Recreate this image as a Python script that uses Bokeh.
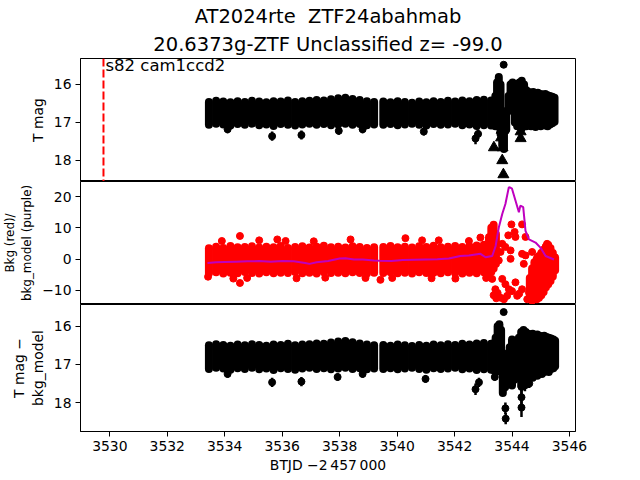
from bokeh.plotting import figure
from bokeh.models import Range1d, FixedTicker, Span, Title
from bokeh.layouts import column
from bokeh.embed import file_html
from bokeh.resources import INLINE
from bokeh.core.properties import value

FONT = "DejaVu Sans"

# ---------------- data ----------------
title_line1 = "AT2024rte\u00a0 ZTF24abahmab"
title_line2 = "20.6373g-ZTF Unclassified z= -99.0"
sector_label = ["s82 cam1ccd2"]
sector_x = [3529.85]
sector_y = [15.25]
sector_line = 3529.78

x_ticks = [3530, 3532, 3534, 3536, 3538, 3540, 3542, 3544, 3546]
mag_ticks = [16, 17, 18]
bkg_ticks = [-10, 0, 10, 20]

# regular part of the light curve: time samples with upper / lower envelope
grid_t = [3533.45, 3533.70, 3533.95, 3534.20, 3534.45, 3534.70, 3534.95, 3535.20,
          3535.45, 3535.70, 3535.95, 3536.20, 3536.45, 3536.70, 3536.95, 3537.20,
          3537.45, 3537.70, 3537.95, 3538.20, 3538.45, 3538.70, 3538.95, 3539.20,
          3539.52, 3539.77, 3540.02, 3540.27, 3540.52, 3540.77, 3541.02, 3541.27,
          3541.52, 3541.77, 3542.02, 3542.27, 3542.52, 3542.77, 3543.02, 3543.27]

tmag_hi = [16.46, 16.43, 16.45, 16.47, 16.44, 16.46, 16.43, 16.45, 16.47, 16.44, 16.45, 16.42,
           16.46, 16.44, 16.43, 16.41, 16.42, 16.39, 16.36, 16.35, 16.38, 16.41, 16.44, 16.46,
           16.45, 16.47, 16.44, 16.46, 16.48, 16.45, 16.47, 16.44, 16.46, 16.43, 16.45, 16.42,
           16.44, 16.41, 16.40, 16.42]
tmag_lo = [17.06, 17.03, 17.05, 17.08, 17.04, 17.06, 17.03, 17.07, 17.05, 17.09, 17.04, 17.06,
           17.08, 17.05, 17.03, 17.06, 17.04, 17.07, 17.05, 17.03, 17.06, 17.04, 17.07, 17.05,
           17.06, 17.04, 17.07, 17.05, 17.03, 17.06, 17.08, 17.04, 17.06, 17.05, 17.03, 17.07,
           17.05, 17.09, 17.07, 17.08]

bkg_hi = [3.5, 4.0, 3.6, 4.2, 3.8, 3.9, 4.1, 3.7, 4.0, 3.8, 4.2, 3.6, 3.9, 4.1, 3.7, 4.0,
          4.3, 3.8, 4.0, 3.7, 4.1, 3.9, 3.6, 3.8, 3.9, 4.2, 3.8, 4.0, 3.7, 4.1, 3.9, 4.3,
          3.8, 4.0, 4.2, 3.9, 4.1, 4.4, 4.6, 4.5]
bkg_lo = [-4.5, -4.2, -4.6, -4.3, -4.5, -4.1, -4.4, -4.6, -4.2, -4.5, -4.3, -4.4, -4.1, -4.5,
          -4.3, -4.6, -4.2, -4.4, -4.3, -4.5, -4.2, -4.4, -4.6, -4.3, -4.4, -4.2, -4.5, -4.3,
          -4.6, -4.2, -4.4, -4.3, -4.5, -4.2, -4.4, -4.6, -4.3, -4.5, -4.2, -4.0]

sub_hi = [16.50, 16.47, 16.49, 16.51, 16.48, 16.50, 16.47, 16.49, 16.51, 16.48, 16.49, 16.46,
          16.50, 16.48, 16.47, 16.45, 16.46, 16.43, 16.40, 16.39, 16.42, 16.45, 16.48, 16.50,
          16.49, 16.51, 16.48, 16.50, 16.52, 16.49, 16.51, 16.48, 16.50, 16.47, 16.49, 16.46,
          16.48, 16.45, 16.44, 16.46]
sub_lo = [17.12, 17.09, 17.11, 17.14, 17.10, 17.12, 17.09, 17.13, 17.11, 17.15, 17.10, 17.12,
          17.14, 17.11, 17.09, 17.12, 17.10, 17.13, 17.11, 17.09, 17.12, 17.10, 17.13, 17.11,
          17.12, 17.10, 17.13, 17.11, 17.09, 17.12, 17.14, 17.10, 17.12, 17.11, 17.09, 17.13,
          17.11, 17.15, 17.13, 17.14]

# flare region, panel 1 (T mag)
flare1_t = [3543.35, 3543.42, 3543.48, 3543.54, 3543.60, 3543.66, 3543.72, 3543.80, 3543.88,
            3543.95, 3544.02, 3544.10, 3544.18, 3544.26, 3544.34, 3544.42, 3544.50, 3544.58,
            3544.66, 3544.74, 3544.82, 3544.90, 3545.00, 3545.08, 3545.16, 3545.24, 3545.32,
            3545.40, 3545.48]
flare1_hi = [16.45, 16.30, 15.95, 15.80, 16.00, 16.80, 17.00, 16.70, 16.30, 16.00, 15.95, 16.00,
             16.10, 15.95, 15.90, 16.00, 16.15, 16.20, 16.22, 16.20, 16.25, 16.22, 16.25, 16.27,
             16.25, 16.28, 16.30, 16.32, 16.35]
flare1_lo = [17.05, 17.10, 16.90, 16.60, 17.30, 17.60, 17.70, 17.20, 16.70, 16.50, 16.60, 17.00,
             17.10, 17.10, 17.15, 17.00, 17.10, 17.05, 17.10, 17.08, 17.12, 17.05, 17.10, 17.06,
             17.08, 17.10, 17.05, 17.02, 16.98]

# isolated points with error bars, panel 1
pt1_t = [3534.10, 3535.65, 3536.67, 3537.97, 3538.80, 3540.93, 3542.73, 3542.82, 3543.71]
pt1_v = [17.18, 17.36, 17.33, 17.22, 17.18, 17.24, 17.42, 17.30, 15.48]
pt1_err = [0.10, 0.12, 0.12, 0.10, 0.10, 0.10, 0.15, 0.12, 0.02]

# upper limits (triangles), panel 1
lim_t = [3543.37, 3543.67, 3543.66, 3543.70, 3544.30, 3544.30, 3543.62, 3543.64]
lim_v = [17.66, 17.66, 18.00, 18.37, 17.24, 17.42, 17.40, 17.20]

# flare region, panel 2 (background, red)
flare2_t = [3543.20, 3543.28, 3543.36, 3543.44, 3544.62, 3544.70, 3544.78, 3544.86, 3544.94,
            3545.02, 3545.10, 3545.18, 3545.26, 3545.34, 3545.42, 3545.50]
flare2_hi = [7.0, 10.0, 11.0, 8.0, -6.0, -3.0, -1.0, 0.0, 1.0, 2.0, 3.0, 4.0, 4.5, 3.5, 2.0, 0.5]
flare2_lo = [-4.5, -4.0, -3.0, -1.5, -12.5, -12.8, -12.5, -12.8, -12.3, -11.5, -10.5, -9.0,
             -8.0, -7.0, -5.5, -3.5]

red_t = [3533.42, 3533.90, 3534.30, 3534.53, 3534.53, 3534.78, 3535.20, 3535.83, 3536.12,
         3536.50, 3537.10, 3537.50, 3538.38, 3538.90, 3539.42, 3539.83, 3540.29, 3540.87,
         3541.20, 3541.45, 3542.03, 3542.50, 3542.90, 3543.10,
         3543.98, 3544.09, 3544.35, 3543.87, 3544.12, 3543.66, 3543.60, 3543.77, 3543.95,
         3543.95, 3543.54, 3543.31, 3543.42, 3543.66, 3543.77, 3543.89, 3544.12, 3544.18,
         3543.83, 3543.60, 3544.35, 3544.41, 3544.35, 3544.47, 3544.47, 3544.70, 3544.88,
         3544.76, 3544.82, 3544.59, 3544.53, 3544.70, 3544.88, 3544.93, 3545.05, 3545.17,
         3545.22, 3545.28, 3545.40, 3545.46, 3545.40, 3543.36, 3543.45, 3543.50, 3543.72,
         3544.00, 3544.25]
red_v = [-5.6, 5.8, -6.2, 7.4, -7.6, -6.0, 6.0, 6.3, 5.8, -6.1, 5.7, -5.9, 6.3, -6.0, -6.6,
         -6.0, 6.7, 6.0, -6.1, 6.0, -6.2, 5.8, 6.9, -6.0,
         11.1, 8.7, 11.1, 7.6, 7.1, 4.9, 2.3, 3.9, 2.8, 0.1, -0.4, -6.3, -9.6, -6.3, -8.0,
         -9.6, -7.4, -11.7, -11.7, -12.3, -9.6, -1.5, 1.7, 1.2, 7.1, 2.3, 0.6, -3.1, -7.4,
         -10.6, -12.8, -13.3, -12.3, -4.2, -1.0, 3.9, 4.9, 2.3, 0.1, -3.1, -5.3, -11.5, -12.5,
         -10.8, -12.8, -10.2, -11.0]

# background model (purple)
model_t = [3533.40, 3533.70, 3534.00, 3534.40, 3534.80, 3535.20, 3535.60, 3536.00, 3536.40,
           3536.80, 3536.95, 3537.20, 3537.60, 3538.00, 3538.20, 3538.50, 3538.80, 3539.20,
           3539.40, 3539.80, 3540.20, 3540.60, 3541.00, 3541.40, 3541.80, 3542.20, 3542.50,
           3542.90, 3543.08, 3543.31, 3543.43, 3543.54, 3543.66, 3543.77, 3543.89, 3543.95,
           3544.00, 3544.12, 3544.24, 3544.29, 3544.39, 3544.47, 3544.59, 3544.82, 3544.99,
           3545.17, 3545.46]
model_v = [-1.2, -1.0, -0.9, -0.8, -0.7, -0.6, -0.8, -0.6, -0.7, -1.2, -1.5, -1.0, -0.6, 0.2,
           0.3, -0.1, -0.1, -0.4, -0.5, -0.6, -0.3, -0.2, -0.1, 0.0, 0.2, 1.0, 1.2, 1.7, 0.6,
           1.0, 4.2, 10.1, 14.4, 17.6, 23.0, 22.8, 22.5, 18.7, 15.0, 17.1, 16.6, 9.0, 6.3, 5.3,
           3.7, 1.0, -0.1]

# flare region, panel 3 (T mag - bkg_model)
flare3_t = [3543.35, 3543.43, 3543.50, 3543.56, 3543.62, 3543.68, 3543.76, 3543.83, 3543.92,
            3544.00, 3544.08, 3544.16, 3544.24, 3544.32, 3544.40, 3544.48, 3544.56, 3544.64,
            3544.72, 3544.80, 3544.88, 3544.96, 3545.04, 3545.12, 3545.20, 3545.28, 3545.36,
            3545.44, 3545.50]
flare3_hi = [16.45, 16.30, 16.00, 15.95, 16.10, 16.70, 17.10, 16.90, 16.55, 16.35, 16.40, 16.80,
             16.30, 16.15, 16.10, 16.15, 16.20, 16.22, 16.20, 16.25, 16.22, 16.25, 16.27, 16.25,
             16.28, 16.30, 16.32, 16.35, 16.38]
flare3_lo = [17.15, 17.20, 16.90, 16.70, 17.20, 17.75, 17.60, 17.50, 17.20, 17.55, 17.40, 17.30,
             17.10, 17.55, 17.30, 17.35, 17.45, 17.30, 17.35, 17.20, 17.30, 17.20, 17.25, 17.20,
             17.15, 17.20, 17.12, 17.10, 17.05]

pt3_t = [3534.10, 3535.65, 3536.67, 3537.93, 3538.80, 3540.99, 3542.73, 3542.85, 3543.40,
         3543.77, 3543.78, 3544.33, 3544.33, 3544.33, 3544.45, 3544.60, 3543.71]
pt3_v = [17.25, 17.47, 17.45, 17.33, 17.25, 17.38, 17.65, 17.47, 17.33, 18.15, 18.42, 17.59,
         17.86, 18.13, 17.55, 17.50, 15.63]
pt3_err = [0.10, 0.12, 0.12, 0.10, 0.10, 0.10, 0.15, 0.12, 0.10, 0.15, 0.15, 0.20, 0.20, 0.25,
           0.15, 0.12, 0.02]

# ---------------- plotting ----------------
X_RANGE = Range1d(3528.98, 3546.21)
W = 640
LEFT = 80
RIGHT = 65
BAND_W = 8


def style(p, yticks, ylabel, label_standoff=5, label_size="13.9px"):
    p.outline_line_color = "black"
    p.outline_line_alpha = 1.0
    p.outline_line_width = 1
    p.xgrid.grid_line_color = None
    p.ygrid.grid_line_color = None
    p.border_fill_color = "white"
    p.background_fill_color = "white"
    axes = list(p.yaxis) + list(p.xaxis)
    for ax in axes:
        ax.axis_line_color = "black"
        ax.major_tick_line_color = "black"
        ax.major_tick_out = 5
        ax.major_tick_in = 0
        ax.minor_tick_line_color = None
        ax.major_label_text_font = FONT
        ax.major_label_text_font_size = "13.9px"
        ax.major_label_text_color = "black"
        ax.major_label_standoff = 4
        ax.axis_label_text_font = FONT
        ax.axis_label_text_font_size = "13.9px"
        ax.axis_label_text_font_style = "normal"
        ax.axis_label_text_color = "black"
    p.yaxis.ticker = FixedTicker(ticks=yticks)
    p.yaxis.axis_label = ylabel
    p.yaxis.axis_label_standoff = label_standoff
    p.yaxis.axis_label_text_font_size = label_size
    p.yaxis.axis_label_text_line_height = 1.2
    p.yaxis.major_label_overrides = {t: str(t).replace("-", "\u2212") for t in yticks}


def band(p, t, hi, lo, color):
    p.segment(x0=t, y0=hi, x1=t, y1=lo, line_width=BAND_W, line_cap="round", line_color=color)


def errpoints(p, t, v, err, color):
    top = [a - e for a, e in zip(v, err)]
    bot = [a + e for a, e in zip(v, err)]
    p.segment(x0=t, y0=top, x1=t, y1=bot, line_width=2.5, line_color=color)
    p.scatter(t, v, marker="circle", size=7, fill_color=color, line_color=color)


# panel 1
f1 = figure(width=W, height=181, x_range=X_RANGE, y_range=Range1d(18.553, 15.316),
            output_backend="svg", toolbar_location=None, x_axis_location=None,
            min_border_left=LEFT, min_border_right=RIGHT, min_border_top=58, min_border_bottom=0)
f1.title = Title(text=title_line1, align="center", text_font=FONT, text_font_size="19.5px",
                 text_font_style="normal", text_color="black", standoff=0,
                 text_line_height=1.0)
f1.add_layout(Title(text=title_line2, align="center", text_font=FONT, text_font_size="19.5px",
                    text_font_style="normal", text_color="black", standoff=6,
                    text_line_height=1.0), "above")
style(f1, mag_ticks, "T mag")
band(f1, grid_t, tmag_hi, tmag_lo, "black")
band(f1, flare1_t, flare1_hi, flare1_lo, "black")
errpoints(f1, pt1_t, pt1_v, pt1_err, "black")
f1.scatter(lim_t, lim_v, marker="triangle", size=11, fill_color="black", line_color="black")
f1.add_layout(Span(location=sector_line, dimension="height", line_color="red",
                   line_dash="8 3", line_width=2))
f1.text(x=sector_x, y=sector_y, text=sector_label, text_font=value(FONT),
        text_font_size="16.5px", text_baseline="top", text_align="left", text_color="black")

# panel 2
f2 = figure(width=W, height=123, x_range=X_RANGE, y_range=Range1d(-14.47, 24.79),
            output_backend="svg", toolbar_location=None, x_axis_location=None,
            min_border_left=LEFT, min_border_right=RIGHT, min_border_top=0, min_border_bottom=0)
style(f2, bkg_ticks, "Bkg (red)/\nbkg_model (purple)", label_standoff=5, label_size="11.9px")
band(f2, grid_t, bkg_hi, bkg_lo, "#ff0000")
band(f2, flare2_t, flare2_hi, flare2_lo, "#ff0000")
f2.scatter(red_t, red_v, marker="circle", size=7, fill_color="#ff0000", line_color="#ff0000")
f2.line(model_t, model_v, line_color="#bf00bf", line_width=2)

# panel 3
f3 = figure(width=W, height=176, x_range=X_RANGE, y_range=Range1d(18.757, 15.432),
            output_backend="svg", toolbar_location=None,
            min_border_left=LEFT, min_border_right=RIGHT, min_border_top=0, min_border_bottom=49)
style(f3, mag_ticks, "T mag \u2212\nbkg_model")
f3.xaxis.ticker = FixedTicker(ticks=x_ticks)
f3.xaxis.axis_label = "BTJD \u22122\u2009457\u2009000"
f3.xaxis.axis_label_standoff = 3
band(f3, grid_t, sub_hi, sub_lo, "black")
band(f3, flare3_t, flare3_hi, flare3_lo, "black")
errpoints(f3, pt3_t, pt3_v, pt3_err, "black")

layout = column(f1, f2, f3, spacing=0)
open("out.html", "w").write(file_html(layout, INLINE))
